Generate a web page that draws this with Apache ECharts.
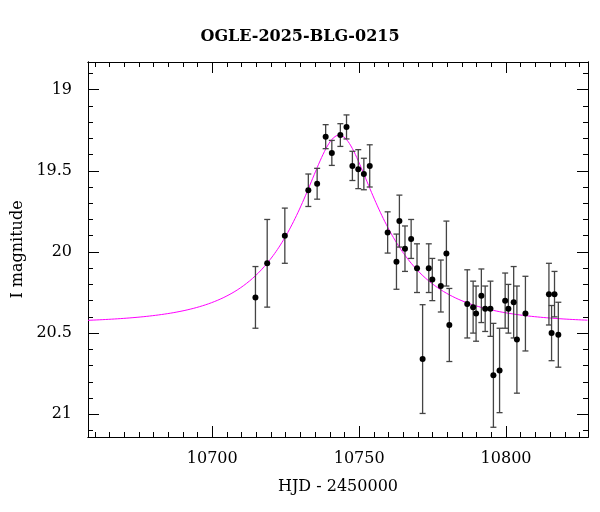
<!DOCTYPE html>
<html lang="en">
<head>
    <meta charset="UTF-8">
    <title>OGLE-2025-BLG-0215</title>
    <script src="https://cdn.jsdelivr.net/npm/echarts@6/dist/echarts.min.js"></script>
    <style>
        *{ margin: 0; padding: 0; }
        .container{ width: 600px; height: 512px; }
    </style>
</head>
<body>
<div class="container"></div>
<script>
    // photometry
    let hjd = [10714.7, 10718.7, 10724.7, 10732.7, 10735.7, 10738.6, 10740.7, 10743.6, 10745.7, 10747.7,
        10749.7, 10751.6, 10753.6, 10759.7, 10762.7, 10763.7, 10765.6, 10767.7, 10769.7, 10771.6,
        10773.7, 10774.9, 10777.8, 10779.7, 10780.7, 10786.8, 10788.8, 10789.8, 10791.6, 10792.9,
        10794.7, 10795.7, 10797.8, 10799.7, 10800.8, 10802.6, 10803.7, 10806.6, 10814.6, 10815.5,
        10816.5, 10817.8];
    let mag = [20.28, 20.07, 19.90, 19.62, 19.58, 19.29, 19.39, 19.28, 19.23, 19.47,
        19.49, 19.52, 19.47, 19.88, 20.06, 19.81, 19.98, 19.92, 20.10, 20.66,
        20.10, 20.17, 20.21, 20.01, 20.45, 20.32, 20.34, 20.38, 20.27, 20.35,
        20.35, 20.76, 20.73, 20.30, 20.35, 20.31, 20.54, 20.38, 20.26, 20.50,
        20.26, 20.51];
    let err = [0.19, 0.27, 0.17, 0.10, 0.095, 0.074, 0.077, 0.07, 0.074, 0.09,
        0.12, 0.097, 0.13, 0.127, 0.17, 0.16, 0.14, 0.12, 0.15, 0.335,
        0.15, 0.13, 0.16, 0.2, 0.225, 0.21, 0.16, 0.17, 0.165, 0.14,
        0.17, 0.32, 0.26, 0.17, 0.15, 0.22, 0.33, 0.23, 0.19, 0.17,
        0.14, 0.2];
    // point-lens model parameters (estimated)
    let t0 = 10743.2, tE = 29, u0 = 0.36, baseMag = 20.44;

    let xMin = 10657.7, xMax = 10827.9, yMin = 18.83, yMax = 21.14;
    let xMajor = [10700, 10750, 10800];
    let yMajor = [19, 19.5, 20, 20.5, 21];
    let xMinor = [], yMinor = [];
    for (let v = 10660; v <= 10825; v += 5) xMinor.push(v);
    for (let v = 189; v <= 211; v++) yMinor.push(v / 10);

    let model = [];
    for (let t = xMin; t <= xMax; t += 0.5) {
        let tau = (t - t0) / tE;
        let u = Math.sqrt(u0 * u0 + tau * tau);
        let A = (u * u + 2) / (u * Math.sqrt(u * u + 4));
        model.push([t, baseMag - 2.5 * Math.log10(A)]);
    }

    let font = 'DejaVu Serif';
    let fnt = {fontFamily: font, color: '#000', fontSize: 16};
    function xAx(pos, ticks, len, labels) {
        return {
            type: 'value', min: xMin, max: xMax, position: pos, gridIndex: 0,
            axisLine: {show: true, onZero: false, lineStyle: {color: '#000'}},
            splitLine: {show: false},
            axisTick: {show: true, inside: true, length: len, customValues: ticks, lineStyle: {color: '#000'}},
            axisLabel: Object.assign({show: labels, customValues: ticks, margin: 14,
                formatter: v => String(v)}, fnt),
            name: labels ? 'HJD - 2450000' : '', nameLocation: 'middle', nameGap: 42,
            nameTextStyle: {fontFamily: font, fontSize: 16, color: '#000'}
        };
    }
    function yAx(pos, ticks, len, labels) {
        return {
            type: 'value', min: yMin, max: yMax, inverse: true, position: pos, gridIndex: 0,
            axisLine: {show: true, onZero: false, lineStyle: {color: '#000'}},
            splitLine: {show: false},
            axisTick: {show: true, inside: true, length: len, customValues: ticks, lineStyle: {color: '#000'}},
            axisLabel: Object.assign({show: labels, customValues: ticks, margin: 16,
                formatter: v => String(v)}, fnt),
            name: labels ? 'I magnitude' : '', nameLocation: 'middle', nameGap: 60,
            nameTextStyle: {fontFamily: font, fontSize: 16, color: '#000'}
        };
    }

    let mycharts = echarts.init(document.querySelector('.container'));
    mycharts.setOption({
        backgroundColor: '#fff',
        animation: false,
        title: {text: 'OGLE-2025-BLG-0215', left: 'center', top: 24,
            textStyle: {fontFamily: font, fontSize: 16, fontWeight: 'bold', color: '#000'}},
        grid: {left: 88, right: 12, top: 62, bottom: 75},
        xAxis: [xAx('bottom', xMajor, 11, true), xAx('bottom', xMinor, 5, false),
            xAx('top', xMajor, 11, false), xAx('top', xMinor, 5, false)],
        yAxis: [yAx('left', yMajor, 11, true), yAx('left', yMinor, 5, false),
            yAx('right', yMajor, 11, false), yAx('right', yMinor, 5, false)],
        series: [
            {
                type: 'line', data: model, showSymbol: false, symbol: 'none',
                lineStyle: {color: '#ff00ff', width: 1}, z: 2
            },
            {
                type: 'custom', z: 3,
                data: hjd.map((t, i) => [t, mag[i] - err[i], mag[i] + err[i]]),
                renderItem: function (params, api) {
                    let top = api.coord([api.value(0), api.value(1)]);
                    let bot = api.coord([api.value(0), api.value(2)]);
                    let w = 3;
                    let st = {stroke: '#444', lineWidth: 1.3};
                    return {
                        type: 'group', children: [
                            {type: 'line', shape: {x1: top[0], y1: top[1], x2: bot[0], y2: bot[1]}, style: st},
                            {type: 'line', shape: {x1: top[0] - w, y1: top[1], x2: top[0] + w, y2: top[1]}, style: st},
                            {type: 'line', shape: {x1: bot[0] - w, y1: bot[1], x2: bot[0] + w, y2: bot[1]}, style: st}
                        ]
                    };
                }
            },
            {
                type: 'scatter', z: 4, symbolSize: 6,
                data: hjd.map((t, i) => [t, mag[i]]),
                itemStyle: {color: '#000', opacity: 1}
            }
        ]
    });
</script>
</body>
</html>
